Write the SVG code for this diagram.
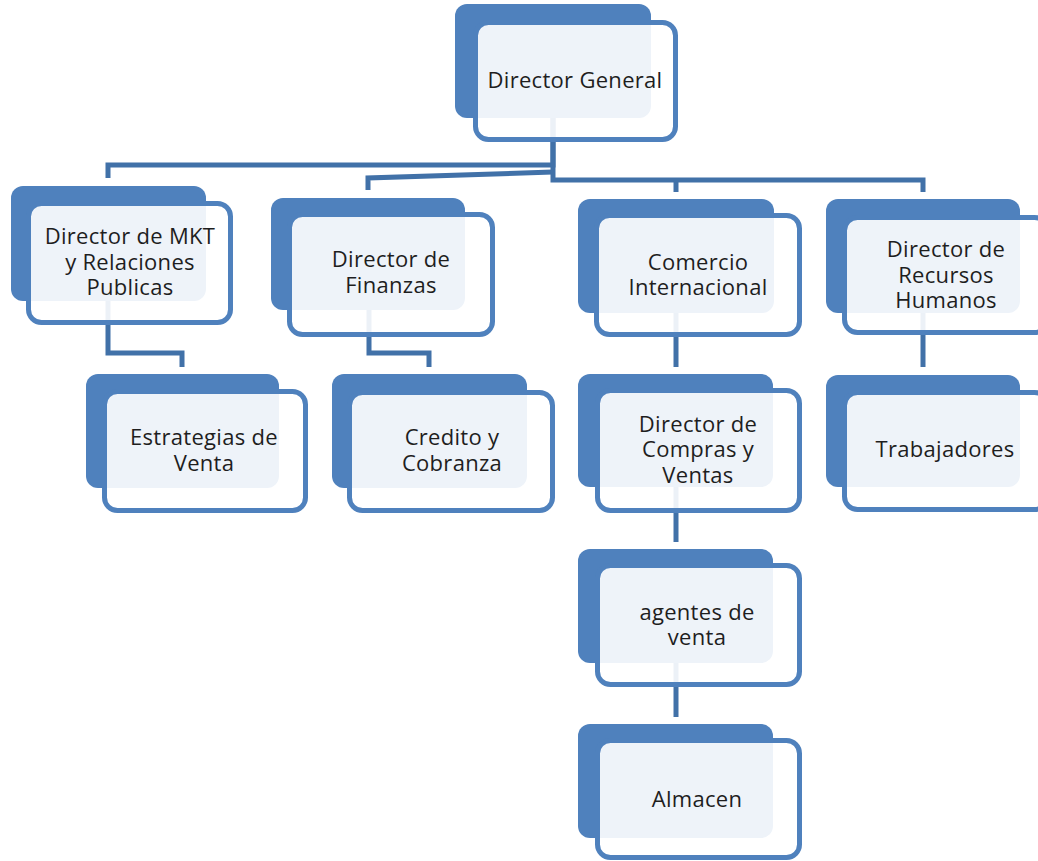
<svg xmlns="http://www.w3.org/2000/svg" width="1038" height="861" viewBox="0 0 1038 861">
<style>
.bk{fill:#4F81BD}
.fr{fill:#FFFFFF;fill-opacity:0.9;stroke:#4F81BD;stroke-width:5}
.tx{font-family:"Open Sans","Noto Sans","Liberation Sans",sans-serif;font-size:22px;fill:#1E1E1E;text-anchor:middle;letter-spacing:0.3px}
.cn{fill:none;stroke:#4171A8;stroke-width:5;stroke-linejoin:miter}
</style>
<rect width="1038" height="861" fill="#FFFFFF"/>
<g id="connectors">
<path class="cn" d="M553,118 V165 H108 V178"/>
<path class="cn" d="M553,172 L368,178 V190"/>
<path class="cn" d="M553,118 V180 H923 V192"/>
<path class="cn" d="M676,180 V192"/>
<path class="cn" d="M108,301 V353 H182 V367"/>
<path class="cn" d="M369,310 V353 H429 V367"/>
<path class="cn" d="M676,313 V367"/>
<path class="cn" d="M676,487 V542"/>
<path class="cn" d="M676,663 V717"/>
<path class="cn" d="M923,313 V367"/>
</g>
<g id="director-general">
<rect class="bk" x="455" y="4" width="196" height="114" rx="12"/>
<rect class="fr" x="475.5" y="22.5" width="200" height="117" rx="13"/>
<text class="tx" x="575" y="88">Director General</text>
</g>
<g id="director-mkt">
<rect class="bk" x="11" y="186" width="195" height="115" rx="12"/>
<rect class="fr" x="28.5" y="203.5" width="202" height="119" rx="13"/>
<text class="tx" x="130" y="244">Director de MKT</text>
<text class="tx" x="130" y="270">y Relaciones</text>
<text class="tx" x="130" y="295">Publicas</text>
</g>
<g id="director-finanzas">
<rect class="bk" x="271" y="198" width="194" height="112" rx="12"/>
<rect class="fr" x="289.5" y="214.5" width="203" height="120" rx="13"/>
<text class="tx" x="391" y="267">Director de</text>
<text class="tx" x="391" y="293">Finanzas</text>
</g>
<g id="comercio-internacional">
<rect class="bk" x="578" y="199" width="196" height="114" rx="12"/>
<rect class="fr" x="596.5" y="215.5" width="203" height="119" rx="13"/>
<text class="tx" x="698" y="270">Comercio</text>
<text class="tx" x="698" y="295">Internacional</text>
</g>
<g id="director-rh">
<rect class="bk" x="826" y="199" width="194" height="114" rx="12"/>
<rect class="fr" x="844.5" y="217.5" width="203" height="115" rx="13"/>
<text class="tx" x="946" y="257">Director de</text>
<text class="tx" x="946" y="283">Recursos</text>
<text class="tx" x="946" y="308">Humanos</text>
</g>
<g id="estrategias-venta">
<rect class="bk" x="86" y="374" width="193" height="114" rx="12"/>
<rect class="fr" x="104.5" y="391.5" width="201" height="119" rx="13"/>
<text class="tx" x="204" y="445">Estrategias de</text>
<text class="tx" x="204" y="471">Venta</text>
</g>
<g id="credito-cobranza">
<rect class="bk" x="332" y="374" width="195" height="114" rx="12"/>
<rect class="fr" x="349.5" y="392.5" width="203" height="118" rx="13"/>
<text class="tx" x="452" y="445">Credito y</text>
<text class="tx" x="452" y="471">Cobranza</text>
</g>
<g id="compras-ventas">
<rect class="bk" x="578" y="374" width="195" height="113" rx="12"/>
<rect class="fr" x="597.5" y="390.5" width="202" height="120" rx="13"/>
<text class="tx" x="698" y="432">Director de</text>
<text class="tx" x="698" y="457">Compras y</text>
<text class="tx" x="698" y="483">Ventas</text>
</g>
<g id="trabajadores">
<rect class="bk" x="826" y="375" width="194" height="112" rx="12"/>
<rect class="fr" x="844.5" y="392.5" width="203" height="117" rx="13"/>
<text class="tx" x="945" y="457">Trabajadores</text>
</g>
<g id="agentes-venta">
<rect class="bk" x="578" y="549" width="195" height="114" rx="12"/>
<rect class="fr" x="597.5" y="565.5" width="202" height="119" rx="13"/>
<text class="tx" x="697" y="620">agentes de</text>
<text class="tx" x="697" y="645">venta</text>
</g>
<g id="almacen">
<rect class="bk" x="578" y="724" width="195" height="114" rx="12"/>
<rect class="fr" x="597.5" y="740.5" width="202" height="117" rx="13"/>
<text class="tx" x="697" y="807">Almacen</text>
</g>
</svg>
